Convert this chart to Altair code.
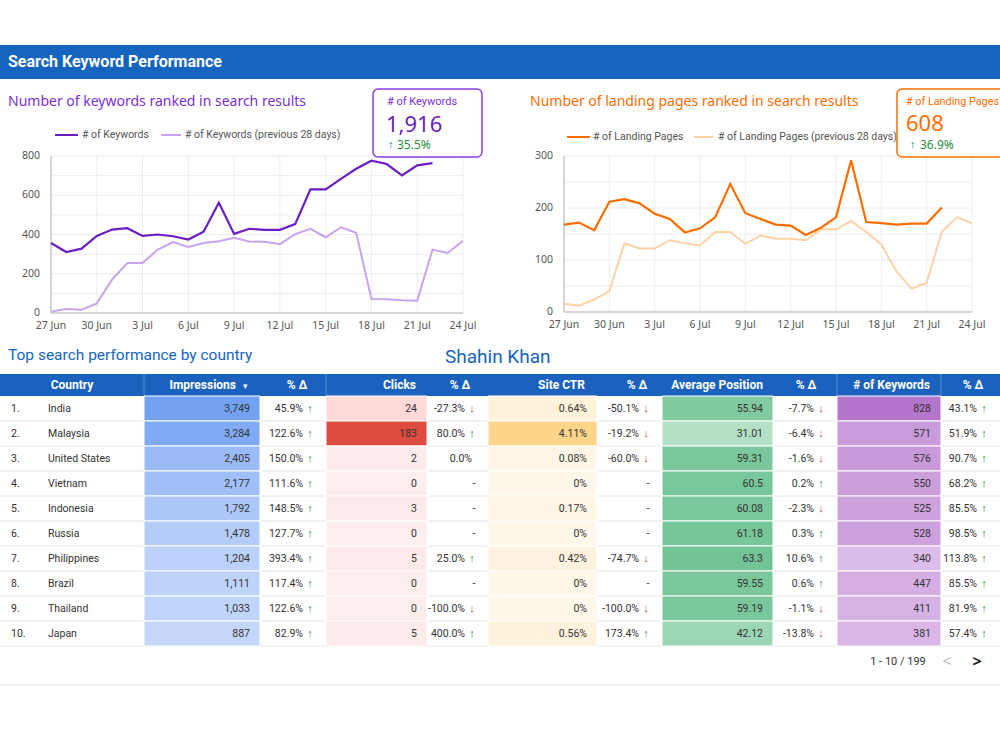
import altair as alt
import pandas as pd

# ---------------- data ----------------
# daily values, 27 Jun – 24 Jul
dates = pd.date_range("2023-06-27", "2023-07-24", freq="D")

keywords_now = [357, 311, 328, 393, 425, 432, 393, 400, 391, 374, 414, 562, 403, 429,
                424, 424, 453, 630, 630, 683, 735, 776, 759, 701, 752, 764]
keywords_prev = [7, 20, 17, 49, 170, 255, 255, 323, 361, 337, 357, 366, 383, 364,
                 363, 351, 402, 429, 386, 437, 409, 71, 70, 65, 63, 323, 306, 368]

pages_now = [168, 172, 157, 212, 217, 209, 189, 179, 153, 161, 182, 246, 190, 179,
             168, 166, 148, 162, 182, 292, 173, 171, 168, 170, 170, 201]
pages_prev = [16, 12, 24, 40, 132, 122, 122, 138, 132, 128, 154, 154, 131, 147,
              141, 141, 138, 159, 159, 175, 154, 130, 78, 45, 56, 154, 182, 171]

tick_labels = ["27 Jun", "30 Jun", "3 Jul", "6 Jul", "9 Jul", "12 Jul",
               "15 Jul", "18 Jul", "21 Jul", "24 Jul"]
keyword_ticks = [0, 200, 400, 600, 800]
keyword_grid = [0, 100, 200, 300, 400, 500, 600, 700, 800]
page_ticks = [0, 100, 200, 300]
page_grid = [0, 50, 100, 150, 200, 250, 300]

keywords_total, keywords_change = 1916, 35.5
pages_total, pages_change = 608, 36.9

countries = ["India", "Malaysia", "United States", "Vietnam", "Indonesia",
             "Russia", "Philippines", "Brazil", "Thailand", "Japan"]
impressions = [3749, 3284, 2405, 2177, 1792, 1478, 1204, 1111, 1033, 887]
impressions_delta = [45.9, 122.6, 150.0, 111.6, 148.5, 127.7, 393.4, 117.4, 122.6, 82.9]
clicks = [24, 183, 2, 0, 3, 0, 5, 0, 0, 5]
clicks_delta = [-27.3, 80.0, 0.0, None, None, None, 25.0, None, -100.0, 400.0]
site_ctr = [0.64, 4.11, 0.08, 0, 0.17, 0, 0.42, 0, 0, 0.56]
site_ctr_delta = [-50.1, -19.2, -60.0, None, None, None, -74.7, None, -100.0, 173.4]
avg_position = [55.94, 31.01, 59.31, 60.5, 60.08, 61.18, 63.3, 59.55, 59.19, 42.12]
avg_position_delta = [-7.7, -6.4, -1.6, 0.2, -2.3, 0.3, 10.6, 0.6, -1.1, -13.8]
country_keywords = [828, 571, 576, 550, 525, 528, 340, 447, 411, 381]
country_keywords_delta = [43.1, 51.9, 90.7, 68.2, 85.5, 98.5, 113.8, 85.5, 81.9, 57.4]
total_rows = 199

# ---------------- styling ----------------
FONT = "Noto Sans"
TFONT = "Roboto"
BLUE = "#1565c0"
PURPLE = "#6a1fc4"
PURPLE_LIGHT = "#c9a3ef"
PURPLE_TEXT = "#7a2fd6"
ORANGE = "#ff6d00"
ORANGE_LIGHT = "#ffd2a6"
GREEN = "#1e8e3e"
RED = "#e53935"
GRID = "#ececec"
AXIS = "#b4b4b4"
LABEL = "#555555"
CELL_TEXT = "#333333"

one = pd.DataFrame({"k": [0]})


def text_at(s, x, y, size, color, weight="normal", align="left", font=FONT):
    return alt.Chart(one).mark_text(
        text=s, align=align, baseline="middle", fontSize=size, color=color,
        fontWeight=weight, font=font,
    ).encode(x=alt.value(x), y=alt.value(y))


def rect_at(x, x2, y, y2, fill, stroke=None, width=0, radius=0):
    opts = dict(fill=fill)
    if stroke:
        opts.update(stroke=stroke, strokeWidth=width)
    if radius:
        opts["cornerRadius"] = radius
    return alt.Chart(one).mark_rect(**opts).encode(
        x=alt.value(x), x2=alt.value(x2), y=alt.value(y), y2=alt.value(y2))


def rule_at(x, x2, y, y2, color, width=1):
    return alt.Chart(one).mark_rule(color=color, strokeWidth=width).encode(
        x=alt.value(x), x2=alt.value(x2), y=alt.value(y), y2=alt.value(y2))


def day(m, d):
    return alt.DateTime(year=2023, month=m, date=d)


def line_panel(now, prev, c_now, c_prev, grid_vals, tick_vals, left, right, top, bottom):
    ymax = grid_vals[-1]
    xs = alt.Scale(domain=[day(6, 27), day(7, 24)], range=[left, right], nice=False)
    ys = alt.Scale(domain=[0, ymax], range=[bottom, top], nice=False, zero=False)

    def X(f):
        return alt.X(f, scale=xs, axis=None)

    def Y(f):
        return alt.Y(f, scale=ys, axis=None)

    hgrid = pd.DataFrame({"v": grid_vals, "a": dates[0], "b": dates[-1]})
    vgrid = pd.DataFrame({"d": dates[::3], "lo": 0, "hi": ymax})
    xlab = pd.DataFrame({"d": dates[::3], "t": tick_labels})
    ylab = pd.DataFrame({"v": tick_vals})
    cur = pd.DataFrame({"d": dates[:len(now)], "v": now})
    old = pd.DataFrame({"d": dates[:len(prev)], "v": prev})

    return [
        alt.Chart(hgrid).mark_rule(color=GRID).encode(x=X("a:T"), x2="b:T", y=Y("v:Q")),
        alt.Chart(vgrid).mark_rule(color=GRID).encode(x=X("d:T"), y=Y("lo:Q"), y2="hi:Q"),
        alt.Chart(hgrid.iloc[:1]).mark_rule(color=AXIS).encode(x=X("a:T"), x2="b:T", y=Y("v:Q")),
        alt.Chart(vgrid.iloc[:1]).mark_rule(color=AXIS).encode(x=X("d:T"), y=Y("lo:Q"), y2="hi:Q"),
        alt.Chart(ylab).mark_text(align="right", baseline="middle", fontSize=10.5,
                                  color=LABEL, font=FONT).encode(
            x=alt.value(left - 11), y=Y("v:Q"), text="v:Q"),
        alt.Chart(xlab).mark_text(align="center", baseline="middle", fontSize=10.5,
                                  color=LABEL, font=FONT).encode(
            x=X("d:T"), y=alt.value(bottom + 13), text="t:N"),
        alt.Chart(old).mark_line(color=c_prev, strokeWidth=2).encode(
            x=X("d:T"), y=Y("v:Q")),
        alt.Chart(cur).mark_line(color=c_now, strokeWidth=2.2).encode(
            x=X("d:T"), y=Y("v:Q")),
    ]


layers = []

# ---------------- page header ----------------
layers += [
    rect_at(0, 1000, 45, 79, BLUE),
    text_at("Search Keyword Performance", 8, 62, 16, "white", weight="bold", font=TFONT),
]

# ---------------- keywords chart ----------------
layers += [text_at("Number of keywords ranked in search results", 8, 102, 14, PURPLE_TEXT)]
layers += line_panel(keywords_now, keywords_prev, PURPLE, PURPLE_LIGHT,
                     keyword_grid, keyword_ticks, 51, 463, 156, 313)
layers += [
    rule_at(55, 78, 135, 135, PURPLE, 2),
    text_at("# of Keywords", 82, 135, 10.5, LABEL, font=TFONT),
    rule_at(161, 181, 135, 135, PURPLE_LIGHT, 2),
    text_at("# of Keywords (previous 28 days)", 185, 135, 10.5, LABEL, font=TFONT),
    rect_at(373, 482, 89, 157, "white", stroke="#8a3fe0", width=1.5, radius=5),
    text_at("# of Keywords", 387, 102, 11, PURPLE_TEXT, font=TFONT),
    text_at(f"{keywords_total:,}", 386, 125, 22, PURPLE),
    text_at("↑", 388, 145, 11, GREEN, weight="bold"),
    text_at(f"{keywords_change:.1f}%", 397, 145, 12, GREEN),
]

# ---------------- landing pages chart ----------------
layers += [text_at("Number of landing pages ranked in search results", 530, 102, 14, ORANGE)]
layers += line_panel(pages_now, pages_prev, ORANGE, ORANGE_LIGHT,
                     page_grid, page_ticks, 564, 972, 156, 312)
layers += [
    rule_at(567, 590, 137, 137, ORANGE, 2),
    text_at("# of Landing Pages", 593, 137, 10.5, LABEL, font=TFONT),
    rule_at(694, 713, 137, 137, ORANGE_LIGHT, 2),
    text_at("# of Landing Pages (previous 28 days)", 718, 137, 10.5, LABEL, font=TFONT),
    rect_at(897, 1012, 89, 157, "white", stroke=ORANGE, width=1.5, radius=5),
    text_at("# of Landing Pages", 906, 102, 10.8, ORANGE, font=TFONT),
    text_at(f"{pages_total}", 906, 124, 22, ORANGE),
    text_at("↑", 910, 145, 11, GREEN, weight="bold"),
    text_at(f"{pages_change:.1f}%", 920, 145, 12, GREEN),
]

# ---------------- table ----------------
layers += [
    text_at("Top search performance by country", 8, 355, 15.5, BLUE, font=TFONT),
    text_at("Shahin Khan", 445, 357, 19, BLUE, font=TFONT),
]

# column edges (px) and how each metric column is drawn
edges = [0, 144, 260, 326, 427, 488, 597, 662, 773, 837, 941, 1000]
rows = list(range(1, len(countries) + 1))
tx = alt.Scale(domain=[0, 1000], range=[0, 1000], nice=False, zero=False)
ty = alt.Scale(domain=rows, range=[396, 646], paddingInner=0, paddingOuter=0)


def TX(f):
    return alt.X(f, scale=tx, axis=None)


def TY(f, **kw):
    return alt.Y(f, scale=ty, axis=None, **kw)


# header row
layers += [rect_at(0, 1000, 374, 396, "#1a62bd")]
for sx in (144, 326, 837, 941):
    layers.append(rule_at(sx, sx, 374, 396, "#4f88d2"))
header_cells = [
    ("Country", 72, "center"), ("Impressions", 236, "right"), ("% Δ", 297, "center"),
    ("Clicks", 416, "right"), ("% Δ", 460, "center"), ("Site CTR", 585, "right"),
    ("% Δ", 637, "center"), ("Average Position", 763, "right"), ("% Δ", 806, "center"),
    ("# of Keywords", 930, "right"), ("% Δ", 973, "center"),
]
for label, hx, al in header_cells:
    layers.append(text_at(label, hx, 385, 12, "white", weight="bold", align=al, font=TFONT))
layers.append(text_at("▾", 245, 386, 9, "white", align="center"))

# row separators
sep = pd.DataFrame({"row": rows, "a": 0, "b": 1000})
layers.append(alt.Chart(sep).mark_rule(color="#e6e6e6").encode(
    x=TX("a:Q"), x2="b:Q", y=TY("row:O", bandPosition=1)))

# heat-coloured metric cells
heat = [
    (1, impressions, "#dde8fc", "#72a1f1"),
    (3, clicks, "#fdeeee", "#de4b3f"),
    (5, site_ctr, "#fff7ea", "#fcd48a"),
    (7, avg_position, "#eef8f2", "#72c497"),
    (9, country_keywords, "#f7eefa", "#b476cc"),
]
for col, vals, lo, hi in heat:
    cells = pd.DataFrame({"row": rows, "v": vals, "x0": edges[col], "x1": edges[col + 1]})
    layers.append(alt.Chart(cells).mark_rect(stroke="white", strokeWidth=1).encode(
        x=TX("x0:Q"), x2="x1:Q", y=TY("row:O"),
        color=alt.Color("v:Q", scale=alt.Scale(domain=[0, max(vals)], range=[lo, hi]),
                        legend=None)))

# cell text
cells = []


def fmt_ctr(v):
    return "0%" if v == 0 else f"{v:.2f}%"


value_cols = [
    (1, [f"{v:,}" for v in impressions]),
    (3, [str(v) for v in clicks]),
    (5, [fmt_ctr(v) for v in site_ctr]),
    (7, [f"{v:g}" for v in avg_position]),
    (9, [str(v) for v in country_keywords]),
]
for col, texts in value_cols:
    for r, s in zip(rows, texts):
        cells.append({"row": r, "x": edges[col + 1] - 10, "t": s, "kind": "right"})

delta_cols = [
    (2, impressions_delta), (4, clicks_delta), (6, site_ctr_delta),
    (8, avg_position_delta), (10, country_keywords_delta),
]
for col, vals in delta_cols:
    ax = edges[col + 1] - 16
    for r, v in zip(rows, vals):
        if v is None:
            cells.append({"row": r, "x": ax + 2, "t": "-", "kind": "center"})
        elif v == 0:
            cells.append({"row": r, "x": ax, "t": f"{v:.1f}%", "kind": "right"})
        else:
            cells.append({"row": r, "x": ax - 7, "t": f"{v:.1f}%", "kind": "right"})
            up = v > 0
            cells.append({"row": r, "x": ax, "t": "↑" if up else "↓",
                          "kind": "arrow", "c": GREEN if up else RED})

for r, name in zip(rows, countries):
    cells.append({"row": r, "x": 11, "t": f"{r}.", "kind": "left"})
    cells.append({"row": r, "x": 48, "t": name, "kind": "left"})

cells = pd.DataFrame(cells)
for kind, align in (("right", "right"), ("left", "left"), ("center", "center")):
    sub = cells[cells.kind == kind][["row", "x", "t"]]
    layers.append(alt.Chart(sub).mark_text(
        align=align, baseline="middle", fontSize=10.5, color=CELL_TEXT, font=TFONT).encode(
        x=TX("x:Q"), y=TY("row:O"), text="t:N"))
arrows = cells[cells.kind == "arrow"][["row", "x", "t", "c"]]
layers.append(alt.Chart(arrows).mark_text(
    align="center", baseline="middle", fontSize=11, fontWeight="bold", font=FONT).encode(
    x=TX("x:Q"), y=TY("row:O"), text="t:N", color=alt.Color("c:N", scale=None)))

# pagination + footer line
layers += [
    text_at(f"1 - {len(countries)} / {total_rows}", 898, 662, 11, CELL_TEXT, align="center",
            font=TFONT),
    text_at("<", 947, 662, 16, "#c0c0c0", align="center"),
    text_at(">", 977, 662, 16, "#222222", weight="bold", align="center"),
    rule_at(0, 1000, 685, 685, "#dfe4ea"),
]

chart = alt.layer(*layers).resolve_scale(
    x="independent", y="independent", color="independent"
).properties(
    width=1000, height=750, padding=0,
    autosize=alt.AutoSizeParams(type="none"),
).configure(background="white").configure_view(stroke=None)

chart.save("out.html", embed_options={"renderer": "svg", "actions": False})
